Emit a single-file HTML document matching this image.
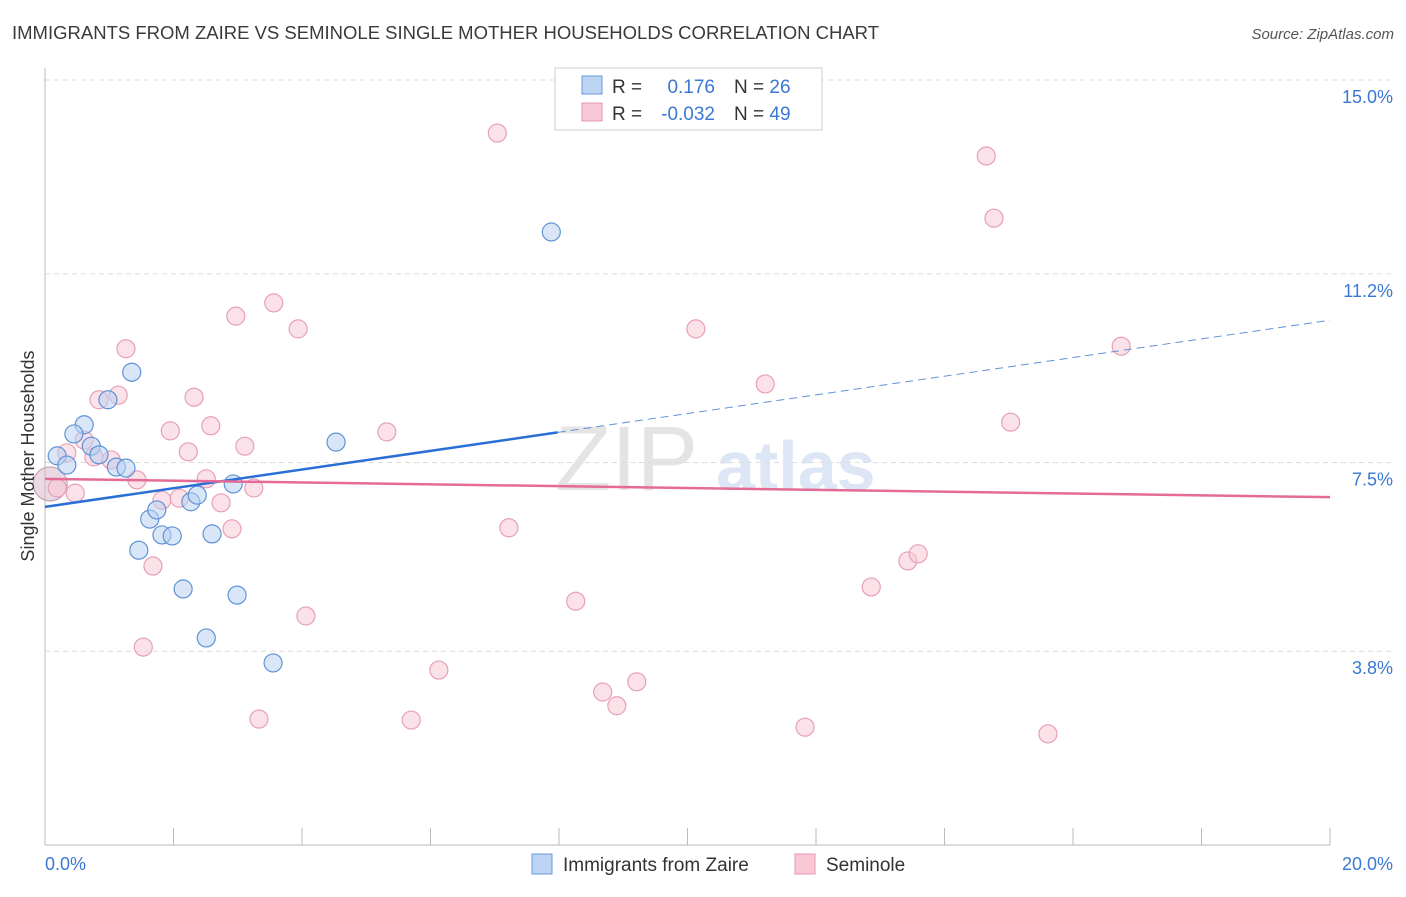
<!DOCTYPE html>
<html><head><meta charset="utf-8"><style>
body{margin:0;background:#fff;font-family:"Liberation Sans",sans-serif}
svg text{font-family:"Liberation Sans",sans-serif}
</style></head><body>
<svg id="chart" width="1406" height="892" xmlns="http://www.w3.org/2000/svg">
<text x="12" y="39" font-size="18" fill="#3a3a3a" textLength="867" lengthAdjust="spacingAndGlyphs">IMMIGRANTS FROM ZAIRE VS SEMINOLE SINGLE MOTHER HOUSEHOLDS CORRELATION CHART</text>
<text x="1394" y="39" font-size="15" fill="#555" text-anchor="end" font-style="italic">Source: ZipAtlas.com</text>
<text x="555" y="490" font-size="92" fill="#e4e4e4" font-family="Liberation Serif">ZIP</text>
<text x="716" y="490" font-size="70" fill="#dce6f4" font-weight="bold">atlas</text>
<g id="grid"></g>
<g id="axes"></g>
<g id="marks"></g>
<text transform="translate(34,456) rotate(-90)" font-size="18" fill="#333" text-anchor="middle">Single Mother Households</text>
<g>
<rect x="555" y="68" width="267" height="62" fill="#fff" stroke="#ccc"/>
<rect x="582" y="76" width="20" height="18" fill="#bcd5f5" stroke="#6a9ad8"/>
<rect x="582" y="103" width="20" height="18" fill="#f8c8d6" stroke="#e497ae"/>
<text x="612" y="93" font-size="19" fill="#333">R =</text>
<text x="715" y="93" font-size="19" fill="#3a78d4" text-anchor="end">0.176</text>
<text x="734" y="93" font-size="19" fill="#333">N = <tspan fill="#3a78d4">26</tspan></text>
<text x="612" y="120" font-size="19" fill="#333">R =</text>
<text x="715" y="120" font-size="19" fill="#3a78d4" text-anchor="end">-0.032</text>
<text x="734" y="120" font-size="19" fill="#333">N = <tspan fill="#3a78d4">49</tspan></text>
</g>
<g>
<rect x="532" y="854" width="20" height="20" fill="#bcd5f5" stroke="#6a9ad8"/>
<text x="563" y="871" font-size="19" fill="#333">Immigrants from Zaire</text>
<rect x="795" y="854" width="20" height="20" fill="#f8c8d6" stroke="#e497ae"/>
<text x="826" y="871" font-size="19" fill="#333">Seminole</text>
</g>
</svg>
<script>
const yTicks=[15.0,11.2,7.5,3.8];
const yTickLabels=["15.0%","11.2%","7.5%","3.8%"];
const xTicks=[0,2,4,6,8,10,12,14,16,18,20];
const blueX=[0.19,0.34,0.61,0.45,0.72,0.84,1.11,1.26,0.98,1.35,1.63,1.74,1.46,1.82,1.98,2.15,2.27,2.37,2.60,2.93,2.99,2.51,3.55,4.53,7.88];
const blueY=[7.63,7.45,8.24,8.06,7.82,7.65,7.41,7.39,8.73,9.27,6.39,6.57,5.78,6.08,6.06,5.02,6.73,6.86,6.10,7.08,4.90,4.06,3.57,7.90,12.02];
const pinkX=[0.19,0.47,0.34,0.61,0.76,0.84,1.03,1.14,1.26,1.43,1.68,1.53,1.82,1.95,2.09,2.23,2.32,2.51,2.58,2.74,2.91,2.97,3.11,3.25,3.33,3.56,3.94,4.06,5.32,5.70,6.13,7.04,7.22,8.26,8.68,8.90,9.21,10.13,11.21,11.83,12.86,13.43,13.59,14.65,14.77,15.03,15.61,16.75];
const pinkY=[7.00,6.90,7.69,7.94,7.61,8.73,7.55,8.82,9.73,7.16,5.47,3.88,6.76,8.12,6.80,7.71,8.78,7.18,8.22,6.71,6.20,10.37,7.82,7.00,2.47,10.63,10.12,4.49,8.10,2.45,3.43,13.96,6.22,4.78,3.00,2.73,3.20,10.12,9.04,2.31,5.06,5.57,5.71,13.51,12.29,8.29,2.18,9.78];
const bigX=[0.08],bigY=[7.08];
const blueTrend=[6.63,10.29],blueSolidEnd=7.98;
const pinkTrend=[7.18,6.82];
const NS="http://www.w3.org/2000/svg";
const xs=v=>45+v*64.25, ys=v=>845-v*51;
function mk(tag,attrs,parent){const e=document.createElementNS(NS,tag);for(const k in attrs)e.setAttribute(k,attrs[k]);document.getElementById(parent).appendChild(e);return e;}
yTicks.forEach((t,i)=>{
 const l=mk('line',{x1:45,x2:1392,y1:ys(t),y2:ys(t),stroke:'#ddd','stroke-dasharray':'5,4'},'grid');
 
 
 const tx=mk('text',{x:1393,y:ys(t)+23,'font-size':18,fill:'#3a78d4','text-anchor':'end'},'axes');
 tx.textContent=yTickLabels[i];
 
 
});
const ax=mk('line',{x1:45,x2:45,y1:68,y2:845,stroke:'#bbb'},'axes');


const bx=mk('line',{x1:45,x2:1330,y1:845,y2:845,stroke:'#bbb'},'axes');


xTicks.forEach(t=>{
 const l=mk('line',{x1:xs(t),x2:xs(t),y1:828,y2:845,stroke:'#bbb'},'axes');
 
 
});
const xl0=mk('text',{x:45,y:870,'font-size':18,fill:'#3a78d4'},'axes');xl0.textContent="0.0%";


const xl1=mk('text',{x:1393,y:870,'font-size':18,fill:'#3a78d4','text-anchor':'end'},'axes');xl1.textContent="20.0%";


function dots(X,Y,r,fill,stroke,name){X.forEach((x,i)=>{
 const c=mk('circle',{cx:xs(x),cy:ys(Y[i]),r:r,fill:fill,'fill-opacity':0.55,stroke:stroke,'stroke-width':1.2},'marks');
 
 
});}
dots(bigX,bigY,17,'#d8b8cc','#c9a0b8','point-large');
dots(pinkX,pinkY,9,'#f8c8d6','#e7a0b6','point-seminole');
dots(blueX,blueY,9,'#b9d2f3','#5f93d6','point-zaire');
const t1=mk('line',{x1:xs(0),y1:ys(blueTrend[0]),x2:xs(blueSolidEnd),y2:ys(blueTrend[0]+(blueTrend[1]-blueTrend[0])*blueSolidEnd/20),stroke:'#2a6fd6','stroke-width':2.5},'marks');


const t2=mk('line',{x1:xs(blueSolidEnd),y1:ys(blueTrend[0]+(blueTrend[1]-blueTrend[0])*blueSolidEnd/20),x2:xs(20),y2:ys(blueTrend[1]),stroke:'#5f93d6','stroke-width':1,'stroke-dasharray':'8,5'},'marks');


const t3=mk('line',{x1:xs(0),y1:ys(pinkTrend[0]),x2:xs(20),y2:ys(pinkTrend[1]),stroke:'#e46b96','stroke-width':2.5},'marks');


</script>
</body></html>
